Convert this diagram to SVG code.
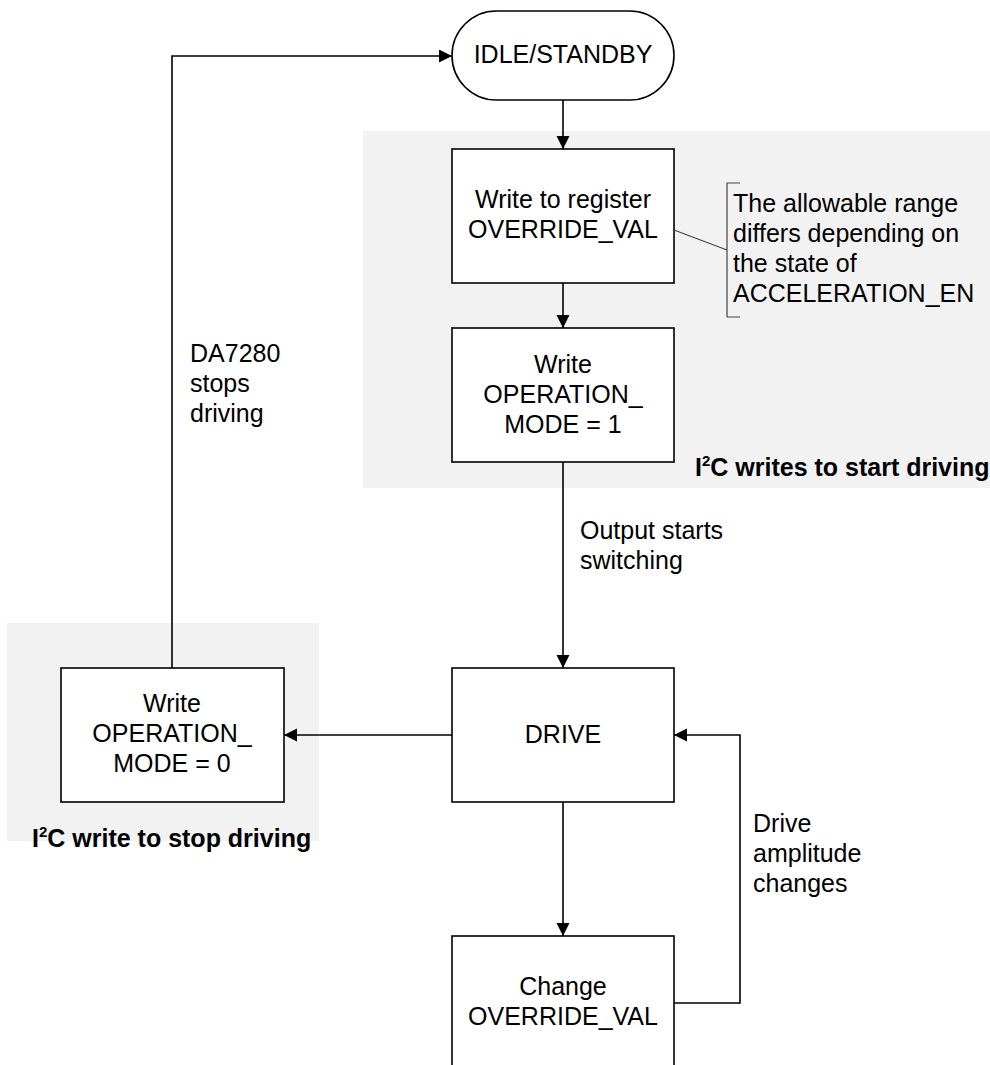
<svg xmlns="http://www.w3.org/2000/svg" width="990" height="1065" viewBox="0 0 990 1065">
<style>
.bg{fill:#f2f2f2;stroke:none}
.box{fill:#fff;stroke:#000;stroke-width:1.6}
.t{font-family:"Liberation Sans",Arial,sans-serif;font-size:25px;fill:#000}
.c{text-anchor:middle}
.b{font-weight:bold}
.ln{fill:none;stroke:#000;stroke-width:1.6}
.note{fill:none;stroke:#444;stroke-width:1.2}
</style>
<defs>
<marker id="ah" markerUnits="userSpaceOnUse" markerWidth="14" markerHeight="14" refX="13" refY="6.5" orient="auto">
<path d="M0,0 L13,6.5 L0,13 z" fill="#000"/>
</marker>
</defs>
<rect width="990" height="1065" fill="#fff"/>
<g id="groups">
<rect class="bg" x="363" y="131" width="627" height="357"/>
<rect class="bg" x="7" y="623" width="312" height="218"/>
<text class="t b" x="695" y="476">I<tspan font-size="15" dy="-10">2</tspan><tspan dy="10">C writes to start driving</tspan></text>
<text class="t b" x="32" y="847">I<tspan font-size="15" dy="-10">2</tspan><tspan dy="10">C write to stop driving</tspan></text>
</g>
<g id="connectors">
<path class="ln" d="M563,100 L563,149" marker-end="url(#ah)"/>
<path class="ln" d="M563,283 L563,328" marker-end="url(#ah)"/>
<path class="ln" d="M563,462 L563,668" marker-end="url(#ah)"/>
<path class="ln" d="M452,735 L284,735" marker-end="url(#ah)"/>
<path class="ln" d="M563,802 L563,936" marker-end="url(#ah)"/>
<path class="ln" d="M674,1003 L740,1003 L740,735 L674,735" marker-end="url(#ah)"/>
<path class="ln" d="M172,668 L172,56 L452,56" marker-end="url(#ah)"/>
<text class="t" x="190" y="362">DA7280</text>
<text class="t" x="190" y="392">stops</text>
<text class="t" x="190" y="422">driving</text>
<text class="t" x="580" y="539">Output starts</text>
<text class="t" x="580" y="569">switching</text>
<text class="t" x="753" y="832">Drive</text>
<text class="t" x="753" y="862">amplitude</text>
<text class="t" x="753" y="892">changes</text>
</g>
<g id="idle">
<rect class="box" x="452" y="11" width="222" height="89" rx="44.5" ry="44.5"/>
<text class="t c" x="563" y="63">IDLE/STANDBY</text>
</g>
<g id="write-override">
<rect class="box" x="452" y="149" width="222" height="134"/>
<text class="t c" x="563" y="208">Write to register</text>
<text class="t c" x="563" y="238">OVERRIDE_VAL</text>
</g>
<g id="note">
<path class="note" d="M674,230 L727,250"/>
<path class="note" d="M740,183 L727,183 L727,317 L740,317"/>
<text class="t" x="733" y="212">The allowable range</text>
<text class="t" x="733" y="242">differs depending on</text>
<text class="t" x="733" y="272">the state of</text>
<text class="t" x="733" y="302">ACCELERATION_EN</text>
</g>
<g id="write-mode1">
<rect class="box" x="452" y="328" width="222" height="134"/>
<text class="t c" x="563" y="373">Write</text>
<text class="t c" x="563" y="403">OPERATION_</text>
<text class="t c" x="563" y="433">MODE = 1</text>
</g>
<g id="drive">
<rect class="box" x="452" y="668" width="222" height="134"/>
<text class="t c" x="563" y="743">DRIVE</text>
</g>
<g id="write-mode0">
<rect class="box" x="61" y="668" width="223" height="134"/>
<text class="t c" x="172" y="712">Write</text>
<text class="t c" x="172" y="742">OPERATION_</text>
<text class="t c" x="172" y="772">MODE = 0</text>
</g>
<g id="change">
<rect class="box" x="452" y="936" width="222" height="140"/>
<text class="t c" x="563" y="995">Change</text>
<text class="t c" x="563" y="1025">OVERRIDE_VAL</text>
</g>
</svg>
